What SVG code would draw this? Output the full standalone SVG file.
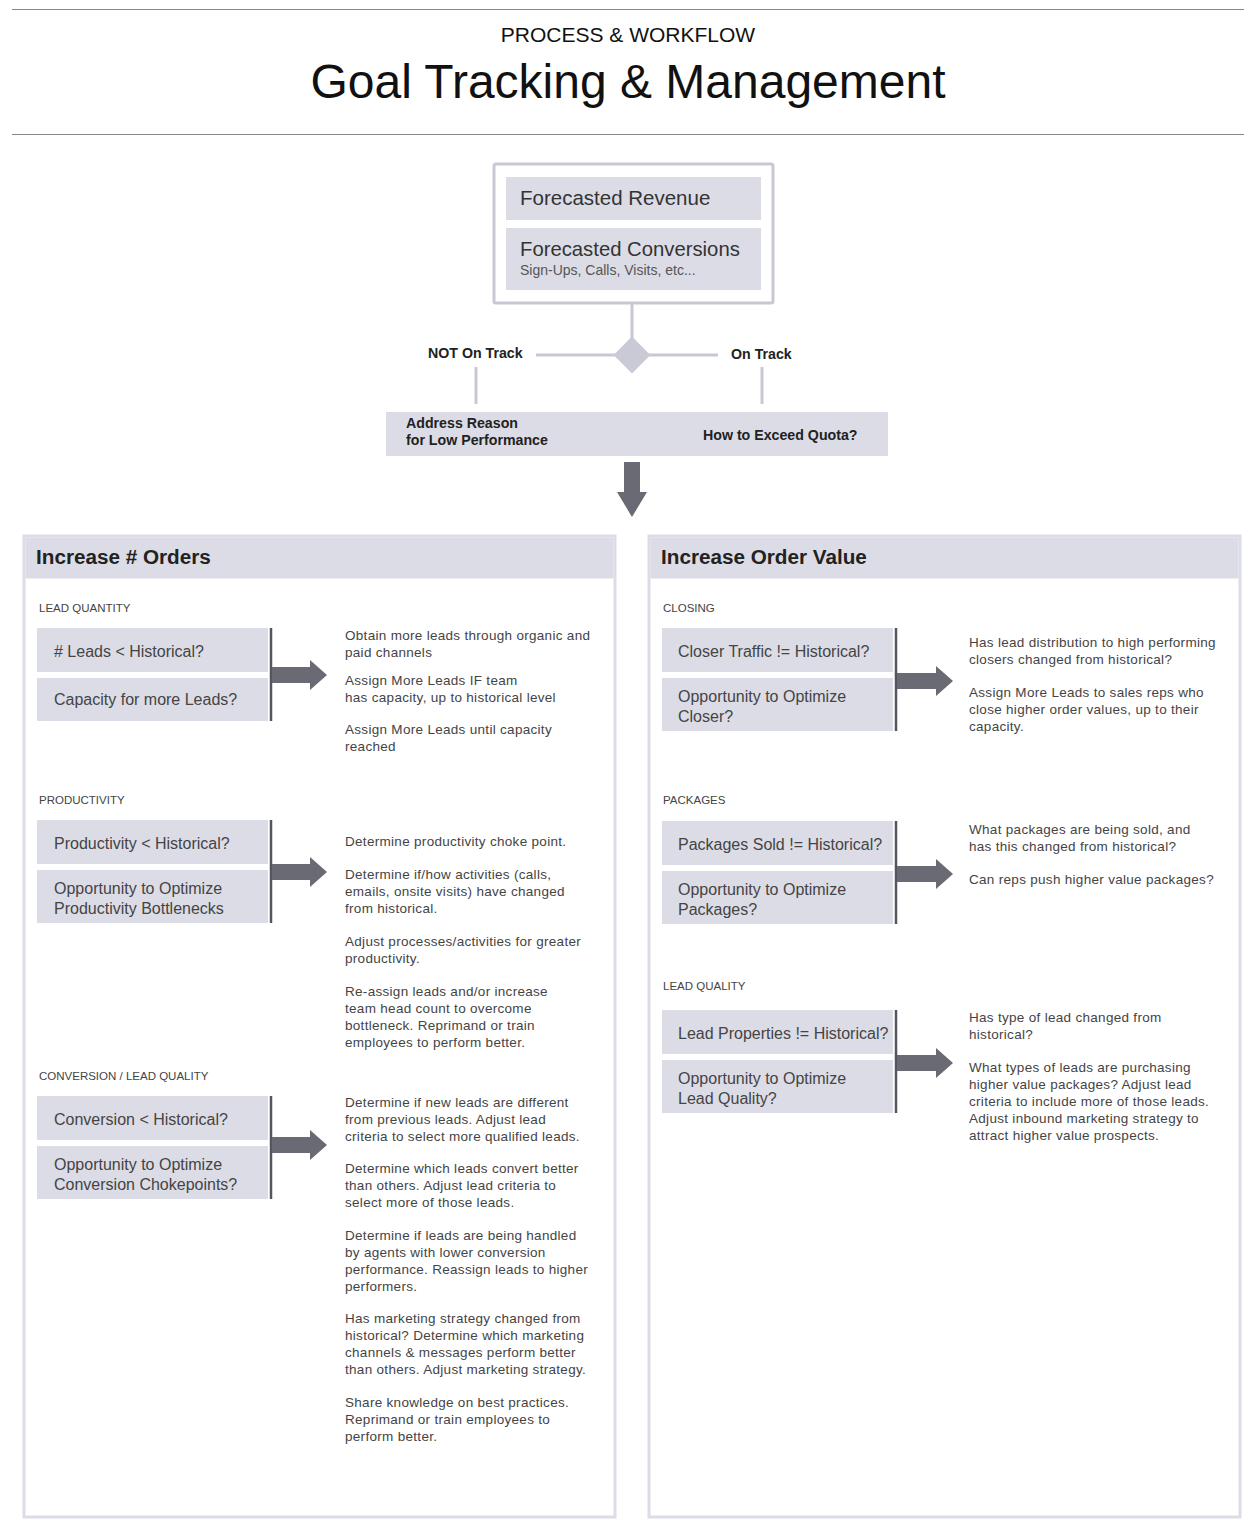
<svg xmlns="http://www.w3.org/2000/svg" width="1256" height="1532" viewBox="0 0 1256 1532">
<style>
text{font-family:"Liberation Sans",Arial,sans-serif;fill:#333}
.box{fill:#dcdce6}
.panel{fill:#fff;stroke:#dcdce8;stroke-width:3}
.conn{stroke:#c8c8d4;stroke-width:3;fill:none}
.bar{stroke:#55555e;stroke-width:2.5}
.arr{fill:#6a6a74}
.lbl{font-size:11.5px;fill:#444}
.q{font-size:16px;fill:#444}
.b{font-size:13.5px;letter-spacing:0.3px;fill:#444}
.hd{font-size:20.7px;font-weight:bold;fill:#222}
.sm{font-size:14.2px;font-weight:bold;fill:#222}
</style>
<rect width="1256" height="1532" fill="#fff"/>
<line x1="12" y1="9.5" x2="1244" y2="9.5" stroke="#888" stroke-width="1"/>
<line x1="12" y1="134.5" x2="1244" y2="134.5" stroke="#888" stroke-width="1"/>
<text x="628" y="42" text-anchor="middle" font-size="21" style="fill:#111">PROCESS &amp; WORKFLOW</text>
<text x="628" y="98" text-anchor="middle" font-size="48" style="fill:#111">Goal Tracking &amp; Management</text>

<g id="connectors">
<line class="conn" x1="632" y1="304" x2="632" y2="345"/>
<line class="conn" x1="536" y1="355" x2="718" y2="355"/>
<line class="conn" x1="476" y1="367" x2="476" y2="404"/>
<line class="conn" x1="762" y1="367" x2="762" y2="404"/>
<path class="arr" d="M624,462 H640 V492 H647 L632,517 L617,492 H624 Z"/>
</g>

<g id="forecast">
<rect x="494" y="164" width="279" height="139" fill="#fff" stroke="#c8c8d4" stroke-width="3" rx="2"/>
<rect class="box" x="506" y="177" width="255" height="43"/>
<text x="520" y="205" font-size="20.5" style="fill:#333">Forecasted Revenue</text>
<rect class="box" x="506" y="228" width="255" height="62"/>
<text x="520" y="256" font-size="20.3" style="fill:#333">Forecasted Conversions</text>
<text x="520" y="275" font-size="14" style="fill:#555">Sign-Ups, Calls, Visits, etc...</text>
</g>

<g id="decision">
<rect x="619" y="342" width="26" height="26" fill="#cacad6" transform="rotate(45 632 355)"/>
<text class="sm" x="428" y="358">NOT On Track</text>
<text class="sm" x="731" y="359">On Track</text>
</g>

<g id="outcomes">
<rect class="box" x="386" y="412" width="502" height="44"/>
<text class="sm" x="406" y="428">Address Reason</text>
<text class="sm" x="406" y="445">for Low Performance</text>
<text class="sm" x="703" y="440">How to Exceed Quota?</text>
</g>

<g id="increase-orders">
<rect class="panel" x="24" y="536" width="591" height="981"/>
<rect class="box" x="25.5" y="537.5" width="588" height="41"/>
<text class="hd" x="36" y="564">Increase # Orders</text>

<g id="lead-quantity">
<text class="lbl" x="39" y="612">LEAD QUANTITY</text>
<rect class="box" x="37" y="628" width="231" height="44"/>
<text class="q" x="54" y="657"># Leads &lt; Historical?</text>
<rect class="box" x="37" y="678" width="231" height="43"/>
<text class="q" x="54" y="705">Capacity for more Leads?</text>
<line class="bar" x1="271" y1="628" x2="271" y2="721"/>
<path class="arr" d="M272,667 H310 V660 L327,675 L310,690 V683 H272 Z"/>
<text class="b" x="345" y="640">Obtain more leads through organic and</text>
<text class="b" x="345" y="657">paid channels</text>
<text class="b" x="345" y="685">Assign More Leads IF team</text>
<text class="b" x="345" y="702">has capacity, up to historical level</text>
<text class="b" x="345" y="734">Assign More Leads until capacity</text>
<text class="b" x="345" y="751">reached</text>
</g>

<g id="productivity">
<text class="lbl" x="39" y="804">PRODUCTIVITY</text>
<rect class="box" x="37" y="820" width="231" height="44"/>
<text class="q" x="54" y="849">Productivity &lt; Historical?</text>
<rect class="box" x="37" y="870" width="231" height="53"/>
<text class="q" x="54" y="894">Opportunity to Optimize</text>
<text class="q" x="54" y="914">Productivity Bottlenecks</text>
<line class="bar" x1="271" y1="820" x2="271" y2="923"/>
<path class="arr" d="M272,864 H310 V857 L327,872 L310,887 V880 H272 Z"/>
<text class="b" x="345" y="846">Determine productivity choke point.</text>
<text class="b" x="345" y="879">Determine if/how activities (calls,</text>
<text class="b" x="345" y="896">emails, onsite visits) have changed</text>
<text class="b" x="345" y="913">from historical.</text>
<text class="b" x="345" y="946">Adjust processes/activities for greater</text>
<text class="b" x="345" y="963">productivity.</text>
<text class="b" x="345" y="996">Re-assign leads and/or increase</text>
<text class="b" x="345" y="1013">team head count to overcome</text>
<text class="b" x="345" y="1030">bottleneck. Reprimand or train</text>
<text class="b" x="345" y="1047">employees to perform better.</text>
</g>

<g id="conversion">
<text class="lbl" x="39" y="1080">CONVERSION / LEAD QUALITY</text>
<rect class="box" x="37" y="1096" width="231" height="44"/>
<text class="q" x="54" y="1125">Conversion &lt; Historical?</text>
<rect class="box" x="37" y="1146" width="231" height="53"/>
<text class="q" x="54" y="1170">Opportunity to Optimize</text>
<text class="q" x="54" y="1190">Conversion Chokepoints?</text>
<line class="bar" x1="271" y1="1096" x2="271" y2="1199"/>
<path class="arr" d="M272,1137 H310 V1130 L327,1145 L310,1160 V1153 H272 Z"/>
<text class="b" x="345" y="1107">Determine if new leads are different</text>
<text class="b" x="345" y="1124">from previous leads. Adjust lead</text>
<text class="b" x="345" y="1141">criteria to select more qualified leads.</text>
<text class="b" x="345" y="1173">Determine which leads convert better</text>
<text class="b" x="345" y="1190">than others. Adjust lead criteria to</text>
<text class="b" x="345" y="1207">select more of those leads.</text>
<text class="b" x="345" y="1240">Determine if leads are being handled</text>
<text class="b" x="345" y="1257">by agents with lower conversion</text>
<text class="b" x="345" y="1274">performance. Reassign leads to higher</text>
<text class="b" x="345" y="1291">performers.</text>
<text class="b" x="345" y="1323">Has marketing strategy changed from</text>
<text class="b" x="345" y="1340">historical? Determine which marketing</text>
<text class="b" x="345" y="1357">channels &amp; messages perform better</text>
<text class="b" x="345" y="1374">than others. Adjust marketing strategy.</text>
<text class="b" x="345" y="1407">Share knowledge on best practices.</text>
<text class="b" x="345" y="1424">Reprimand or train employees to</text>
<text class="b" x="345" y="1441">perform better.</text>
</g>
</g>

<g id="increase-value">
<rect class="panel" x="649" y="536" width="591" height="981"/>
<rect class="box" x="650.5" y="537.5" width="588" height="41"/>
<text class="hd" x="661" y="564">Increase Order Value</text>

<g id="closing">
<text class="lbl" x="663" y="612">CLOSING</text>
<rect class="box" x="662" y="628" width="231" height="44"/>
<text class="q" x="678" y="657">Closer Traffic != Historical?</text>
<rect class="box" x="662" y="678" width="231" height="53"/>
<text class="q" x="678" y="702">Opportunity to Optimize</text>
<text class="q" x="678" y="722">Closer?</text>
<line class="bar" x1="896" y1="628" x2="896" y2="731"/>
<path class="arr" d="M897,673 H936 V666 L953,681 L936,696 V689 H897 Z"/>
<text class="b" x="969" y="647">Has lead distribution to high performing</text>
<text class="b" x="969" y="664">closers changed from historical?</text>
<text class="b" x="969" y="697">Assign More Leads to sales reps who</text>
<text class="b" x="969" y="714">close higher order values, up to their</text>
<text class="b" x="969" y="731">capacity.</text>
</g>

<g id="packages">
<text class="lbl" x="663" y="804">PACKAGES</text>
<rect class="box" x="662" y="821" width="231" height="44"/>
<text class="q" x="678" y="850">Packages Sold != Historical?</text>
<rect class="box" x="662" y="871" width="231" height="53"/>
<text class="q" x="678" y="895">Opportunity to Optimize</text>
<text class="q" x="678" y="915">Packages?</text>
<line class="bar" x1="896" y1="821" x2="896" y2="924"/>
<path class="arr" d="M897,866 H936 V859 L953,874 L936,889 V882 H897 Z"/>
<text class="b" x="969" y="834">What packages are being sold, and</text>
<text class="b" x="969" y="851">has this changed from historical?</text>
<text class="b" x="969" y="884">Can reps push higher value packages?</text>
</g>

<g id="lead-quality">
<text class="lbl" x="663" y="990">LEAD QUALITY</text>
<rect class="box" x="662" y="1010" width="231" height="44"/>
<text class="q" x="678" y="1039">Lead Properties != Historical?</text>
<rect class="box" x="662" y="1060" width="231" height="53"/>
<text class="q" x="678" y="1084">Opportunity to Optimize</text>
<text class="q" x="678" y="1104">Lead Quality?</text>
<line class="bar" x1="896" y1="1010" x2="896" y2="1113"/>
<path class="arr" d="M897,1055 H936 V1048 L953,1063 L936,1078 V1071 H897 Z"/>
<text class="b" x="969" y="1022">Has type of lead changed from</text>
<text class="b" x="969" y="1039">historical?</text>
<text class="b" x="969" y="1072">What types of leads are purchasing</text>
<text class="b" x="969" y="1089">higher value packages? Adjust lead</text>
<text class="b" x="969" y="1106">criteria to include more of those leads.</text>
<text class="b" x="969" y="1123">Adjust inbound marketing strategy to</text>
<text class="b" x="969" y="1140">attract higher value prospects.</text>
</g>
</g>
</svg>
